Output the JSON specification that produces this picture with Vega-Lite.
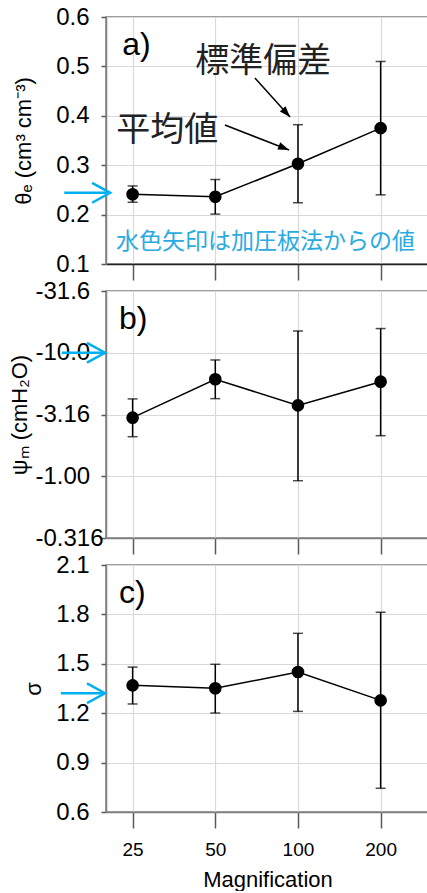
{
  "$schema": "https://vega.github.io/schema/vega-lite/v6.json",
  "padding": {"left": 7, "top": 4, "right": 0, "bottom": 0},
  "bounds": "flush",
  "spacing": 27,
  "config": {
    "font": "Liberation Sans",
    "view": {"stroke": "#808080", "strokeWidth": 1.5},
    "axis": {
      "domainColor": "#808080", "domainWidth": 1.5,
      "tickColor": "#595959", "tickWidth": 1.5,
      "gridColor": "#d9d9d9", "gridWidth": 1.2,
      "labelColor": "#000", "titleColor": "#000",
      "labelFont": "Liberation Sans", "titleFont": "Liberation Sans",
      "titleFontWeight": "normal"
    },
    "axisY": {"tickSize": 5, "labelFontSize": 24, "labelPadding": 12, "titleFontSize": 22, "titleBaseline": "alphabetic", "titleAngle": -90, "titleY": 123.5},
    "axisX": {"tickSize": 16, "labelFontSize": 19, "labelPadding": 12, "titleFontSize": 22, "titlePadding": 10}
  },
  "datasets": {
    "theta": [
      {"m": 25, "mean": 0.241, "lo": 0.225, "hi": 0.258},
      {"m": 50, "mean": 0.236, "lo": 0.201, "hi": 0.271},
      {"m": 100, "mean": 0.303, "lo": 0.224, "hi": 0.382},
      {"m": 200, "mean": 0.375, "lo": 0.240, "hi": 0.510}
    ],
    "psi": [
      {"m": 25, "mean": 2.98, "lo": 2.09, "hi": 4.23},
      {"m": 50, "mean": 6.10, "lo": 4.25, "hi": 8.74},
      {"m": 100, "mean": 3.75, "lo": 0.92, "hi": 15.0},
      {"m": 200, "mean": 5.83, "lo": 2.13, "hi": 15.7}
    ],
    "sigma": [
      {"m": 25, "mean": 1.369, "lo": 1.256, "hi": 1.480},
      {"m": 50, "mean": 1.351, "lo": 1.201, "hi": 1.497},
      {"m": 100, "mean": 1.450, "lo": 1.211, "hi": 1.685},
      {"m": 200, "mean": 1.278, "lo": 0.744, "hi": 1.813}
    ]
  },
  "vconcat": [
    {
      "width": 323, "height": 247,
      "encoding": {
        "x": {"field": "m", "type": "quantitative", "title": null,
          "scale": {"type": "log", "base": 2, "domain": [20, 300], "nice": false},
          "axis": {"values": [25, 50, 100, 200], "labels": false, "grid": true, "domainColor": "#222"}}
      },
      "layer": [
        {"data": {"name": "theta"}, "mark": {"type": "rule", "color": "#000", "strokeWidth": 1.5},
          "encoding": {
            "y": {"field": "lo", "type": "quantitative", "title": "θₑ (cm³ cm⁻³)",
              "scale": {"domain": [0.1, 0.6], "nice": false, "zero": false},
              "axis": {"values": [0.1, 0.2, 0.3, 0.4, 0.5, 0.6], "format": ".1f", "grid": true, "titleX": -76}},
            "y2": {"field": "hi"}}},
        {"data": {"name": "theta"}, "mark": {"type": "tick", "orient": "horizontal", "color": "#000", "size": 10, "thickness": 1.5},
          "encoding": {"y": {"field": "lo", "type": "quantitative", "title": "θₑ (cm³ cm⁻³)"}}},
        {"data": {"name": "theta"}, "mark": {"type": "tick", "orient": "horizontal", "color": "#000", "size": 10, "thickness": 1.5},
          "encoding": {"y": {"field": "hi", "type": "quantitative", "title": "θₑ (cm³ cm⁻³)"}}},
        {"data": {"name": "theta"}, "mark": {"type": "line", "color": "#000", "strokeWidth": 1.5},
          "encoding": {"y": {"field": "mean", "type": "quantitative", "title": "θₑ (cm³ cm⁻³)"}}},
        {"data": {"name": "theta"}, "mark": {"type": "point", "filled": true, "color": "#000", "size": 160, "opacity": 1},
          "encoding": {"y": {"field": "mean", "type": "quantitative", "title": "θₑ (cm³ cm⁻³)"}}},
        {"data": {"values": [{"m": 69.7, "v": 0.4765, "m2": 93.6, "v2": 0.3976}, {"m": 54.2, "v": 0.3814, "m2": 92.8, "v2": 0.3308}]},
          "mark": {"type": "rule", "color": "#000", "strokeWidth": 1.5},
          "encoding": {"y": {"field": "v", "type": "quantitative", "title": "θₑ (cm³ cm⁻³)"}, "x2": {"field": "m2"}, "y2": {"field": "v2"}}},
        {"data": {"values": [{"m": 93.6, "v": 0.3976}]},
          "mark": {"type": "point", "shape": "M0,0L-1,-0.35L-1,0.35Z", "filled": true, "color": "#000", "size": 484, "opacity": 1, "angle": 47.7},
          "encoding": {"y": {"field": "v", "type": "quantitative", "title": "θₑ (cm³ cm⁻³)"}}},
        {"data": {"values": [{"m": 92.8, "v": 0.3308}]},
          "mark": {"type": "point", "shape": "M0,0L-1,-0.35L-1,0.35Z", "filled": true, "color": "#000", "size": 484, "opacity": 1, "angle": 21.5},
          "encoding": {"y": {"field": "v", "type": "quantitative", "title": "θₑ (cm³ cm⁻³)"}}},
        {"data": {"values": [{"m": 14.1, "v": 0.244, "m2": 20.5}]},
          "mark": {"type": "rule", "color": "#00B0F0", "strokeWidth": 2.5},
          "encoding": {"y": {"field": "v", "type": "quantitative", "title": "θₑ (cm³ cm⁻³)"}, "x2": {"field": "m2"}}},
        {"data": {"values": [{"m": 20.7, "v": 0.244}]},
          "mark": {"type": "point", "shape": "M-1,-0.55L0,0L-1,0.55", "filled": false, "color": "#00B0F0", "strokeWidth": 2.5, "size": 1296, "opacity": 1},
          "encoding": {"y": {"field": "v", "type": "quantitative", "title": "θₑ (cm³ cm⁻³)"}}},
        {"data": {"values": [{"m": 22.9, "v": 0.523, "t": "a)"}]},
          "mark": {"type": "text", "align": "left", "baseline": "alphabetic", "fontSize": 32, "color": "#000", "font": "Liberation Sans"},
          "encoding": {"y": {"field": "v", "type": "quantitative", "title": "θₑ (cm³ cm⁻³)"}, "text": {"field": "t"}}},
        {"data": {"values": [{"m": 74.7, "v": 0.508, "t": "標準偏差"}, {"m": 33.4, "v": 0.369, "t": "平均値"}]},
          "mark": {"type": "text", "align": "center", "baseline": "middle", "fontSize": 34, "color": "#222", "font": "Noto Sans CJK JP"},
          "encoding": {"y": {"field": "v", "type": "quantitative", "title": "θₑ (cm³ cm⁻³)"}, "text": {"field": "t"}}},
        {"data": {"values": [{"m": 76.2, "v": 0.1445, "t": "水色矢印は加圧板法からの値"}]},
          "mark": {"type": "text", "align": "center", "baseline": "middle", "fontSize": 23, "color": "#29ABE2", "font": "Noto Sans CJK JP"},
          "encoding": {"y": {"field": "v", "type": "quantitative", "title": "θₑ (cm³ cm⁻³)"}, "text": {"field": "t"}}}
      ]
    },
    {
      "width": 323, "height": 247,
      "encoding": {
        "x": {"field": "m", "type": "quantitative", "title": null,
          "scale": {"type": "log", "base": 2, "domain": [20, 300], "nice": false},
          "axis": {"values": [25, 50, 100, 200], "labels": false, "grid": true}}
      },
      "layer": [
        {"data": {"name": "psi"}, "mark": {"type": "rule", "color": "#000", "strokeWidth": 1.5},
          "encoding": {
            "y": {"field": "lo", "type": "quantitative", "title": "ψₘ (cmH₂O)",
              "scale": {"type": "log", "domain": [0.31623, 31.623], "nice": false},
              "axis": {"values": [0.31623, 1, 3.1623, 10, 31.623], "labelExpr": "'-' + format(datum.value, '.3r')", "labelAlign": "left", "labelPadding": 66, "grid": true, "titleX": -80}},
            "y2": {"field": "hi"}}},
        {"data": {"name": "psi"}, "mark": {"type": "tick", "orient": "horizontal", "color": "#000", "size": 10, "thickness": 1.5},
          "encoding": {"y": {"field": "lo", "type": "quantitative", "title": "ψₘ (cmH₂O)"}}},
        {"data": {"name": "psi"}, "mark": {"type": "tick", "orient": "horizontal", "color": "#000", "size": 10, "thickness": 1.5},
          "encoding": {"y": {"field": "hi", "type": "quantitative", "title": "ψₘ (cmH₂O)"}}},
        {"data": {"name": "psi"}, "mark": {"type": "line", "color": "#000", "strokeWidth": 1.5},
          "encoding": {"y": {"field": "mean", "type": "quantitative", "title": "ψₘ (cmH₂O)"}}},
        {"data": {"name": "psi"}, "mark": {"type": "point", "filled": true, "color": "#000", "size": 160, "opacity": 1},
          "encoding": {"y": {"field": "mean", "type": "quantitative", "title": "ψₘ (cmH₂O)"}}},
        {"data": {"values": [{"m": 13.8, "v": 10, "m2": 19.6}]},
          "mark": {"type": "rule", "color": "#00B0F0", "strokeWidth": 2.5},
          "encoding": {"y": {"field": "v", "type": "quantitative", "title": "ψₘ (cmH₂O)"}, "x2": {"field": "m2"}}},
        {"data": {"values": [{"m": 19.83, "v": 10}]},
          "mark": {"type": "point", "shape": "M-1,-0.55L0,0L-1,0.55", "filled": false, "color": "#00B0F0", "strokeWidth": 2.5, "size": 1296, "opacity": 1},
          "encoding": {"y": {"field": "v", "type": "quantitative", "title": "ψₘ (cmH₂O)"}}},
        {"data": {"values": [{"m": 22.3, "v": 15.6, "t": "b)"}]},
          "mark": {"type": "text", "align": "left", "baseline": "alphabetic", "fontSize": 32, "color": "#000", "font": "Liberation Sans"},
          "encoding": {"y": {"field": "v", "type": "quantitative", "title": "ψₘ (cmH₂O)"}, "text": {"field": "t"}}}
      ]
    },
    {
      "width": 323, "height": 247,
      "encoding": {
        "x": {"field": "m", "type": "quantitative", "title": "Magnification",
          "scale": {"type": "log", "base": 2, "domain": [20, 300], "nice": false},
          "axis": {"values": [25, 50, 100, 200], "format": "d", "grid": true}}
      },
      "layer": [
        {"data": {"name": "sigma"}, "mark": {"type": "rule", "color": "#000", "strokeWidth": 1.5},
          "encoding": {
            "y": {"field": "lo", "type": "quantitative", "title": "σ",
              "scale": {"domain": [0.6, 2.1], "nice": false, "zero": false},
              "axis": {"values": [0.6, 0.9, 1.2, 1.5, 1.8, 2.1], "format": ".1f", "grid": true, "titleX": -66}},
            "y2": {"field": "hi"}}},
        {"data": {"name": "sigma"}, "mark": {"type": "tick", "orient": "horizontal", "color": "#000", "size": 10, "thickness": 1.5},
          "encoding": {"y": {"field": "lo", "type": "quantitative", "title": "σ"}}},
        {"data": {"name": "sigma"}, "mark": {"type": "tick", "orient": "horizontal", "color": "#000", "size": 10, "thickness": 1.5},
          "encoding": {"y": {"field": "hi", "type": "quantitative", "title": "σ"}}},
        {"data": {"name": "sigma"}, "mark": {"type": "line", "color": "#000", "strokeWidth": 1.5},
          "encoding": {"y": {"field": "mean", "type": "quantitative", "title": "σ"}}},
        {"data": {"name": "sigma"}, "mark": {"type": "point", "filled": true, "color": "#000", "size": 160, "opacity": 1},
          "encoding": {"y": {"field": "mean", "type": "quantitative", "title": "σ"}}},
        {"data": {"values": [{"m": 13.7, "v": 1.321, "m2": 19.6}]},
          "mark": {"type": "rule", "color": "#00B0F0", "strokeWidth": 2.5},
          "encoding": {"y": {"field": "v", "type": "quantitative", "title": "σ"}, "x2": {"field": "m2"}}},
        {"data": {"values": [{"m": 19.83, "v": 1.321}]},
          "mark": {"type": "point", "shape": "M-1,-0.55L0,0L-1,0.55", "filled": false, "color": "#00B0F0", "strokeWidth": 2.5, "size": 1296, "opacity": 1},
          "encoding": {"y": {"field": "v", "type": "quantitative", "title": "σ"}}},
        {"data": {"values": [{"m": 22.3, "v": 1.869, "t": "c)"}]},
          "mark": {"type": "text", "align": "left", "baseline": "alphabetic", "fontSize": 32, "color": "#000", "font": "Liberation Sans"},
          "encoding": {"y": {"field": "v", "type": "quantitative", "title": "σ"}, "text": {"field": "t"}}}
      ]
    }
  ]
}
